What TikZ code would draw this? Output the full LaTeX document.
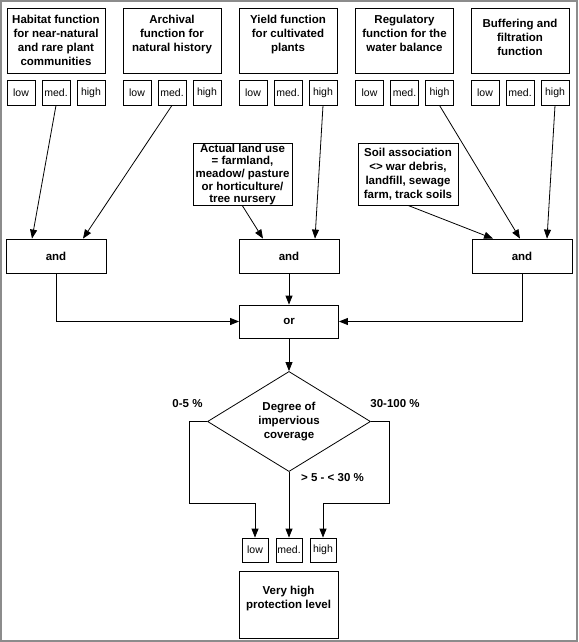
\documentclass[tikz,border=0pt]{standalone}
\usepackage{fontspec}
\setmainfont{Liberation Sans}
\usetikzlibrary{shapes.geometric}
\usetikzlibrary{arrows.meta}
\newcommand{\levels}[3] % name, x centre, y centre (in px)
{
	% three rating boxes under a function box
	\node[lvlbox] (#1low) at (#2-35,#3) {low};
	\node[lvlbox] (#1med) at (#2,#3) {med.};
	\node[lvlbox] (#1high) at (#2+35,#3) {high};
}

\begin{document}
\begin{tikzpicture}[x=1pt, y=-1pt, line width=0.8pt,
	fnbox/.style={draw, align=center, font=\fontsize{11.5}{14}\selectfont\bfseries, minimum width=98pt, minimum height=65pt, inner sep=0pt},
	lvlbox/.style={draw, font=\fontsize{10.5}{12}\selectfont, minimum width=28pt, minimum height=25pt, inner sep=0pt},
	opbox/.style={draw, font=\fontsize{11.5}{14}\selectfont\bfseries, minimum width=100pt, minimum height=34pt, inner sep=0pt},
	lbl/.style={font=\fontsize{11.5}{14}\selectfont\bfseries},
	arr/.style={-{Triangle[length=9pt,width=7pt]}}]
	% page: 578px x 642px, 1px = 1pt, y pointing down
	\useasboundingbox (0,0) rectangle (578,642);
	\draw[black!45, line width=2pt] (1,1) rectangle (577,641);
	
	% soil functions
	\node[fnbox] (habitat) at (56,40.5) {Habitat function\\for near-natural\\and rare plant\\communities};
	\node[fnbox] (archive) at (172,40.5) {Archival\\function for\\natural history\\ \mbox{}};
	\node[fnbox] (yield) at (288,40.5) {Yield function\\for cultivated\\plants\\ \mbox{}};
	\node[fnbox] (water) at (404.5,40.5) {Regulatory\\function for the\\water balance\\ \mbox{}};
	\node[fnbox] (buffer) at (520,40.5) {Buffering and\\filtration\\function\\[-7pt] \mbox{}};
	
	\levels{habitat}{56}{92.5};
	\levels{archive}{172}{92.5};
	\levels{yield}{288}{92.5};
	\levels{water}{404.5}{92.5};
	\levels{buffer}{520}{92.5};
	
	% extra conditions
	\node[fnbox, minimum width=99pt, minimum height=62pt, font=\fontsize{11.5}{12.6}\selectfont\bfseries] (land) at (242.5,174.5) {Actual land use\\= farmland,\\meadow/ pasture\\or horticulture/\\tree nursery};
	\node[fnbox, minimum width=100pt, minimum height=62pt] (soil) at (408,174) {Soil association\\<> war debris,\\landfill, sewage\\farm, track soils};
	
	% logic
	\node[opbox] (and1) at (56,256) {and};
	\node[opbox] (and2) at (289,256) {and};
	\node[opbox] (and3) at (522,256) {and};
	\node[opbox, minimum width=99pt, minimum height=33pt] (orbox) at (289,321.5) {or};
	
	\draw[arr] (habitatmed.south) -- ([xshift=-24pt]and1.north);
	\draw[arr] (archivemed.south) -- ([xshift=27pt]and1.north);
	\draw[arr] (yieldhigh.south) -- ([xshift=26pt]and2.north);
	\draw[arr] (land.south) -- ([xshift=-26pt]and2.north);
	\draw[arr] (soil.south) -- ([xshift=-29pt]and3.north);
	\draw[arr] (waterhigh.south) -- ([xshift=-2pt]and3.north);
	\draw[arr] (bufferhigh.south) -- ([xshift=25pt]and3.north);
	
	\draw[arr] (and1.south) |- (orbox.west);
	\draw[arr] (and3.south) |- (orbox.east);
	\draw[arr] (and2.south) -- (orbox.north);
	
	% impervious coverage
	\node[draw, diamond, minimum width=163pt, minimum height=97pt, inner sep=0pt, align=center, lbl] (deg) at (289,421.5) {Degree of\\impervious\\coverage};
	\draw[arr] (orbox.south) -- (deg.north);
	
	\node[lvlbox, minimum width=26pt, minimum height=24pt] (plow) at (255,550) {low};
	\node[lvlbox, minimum width=26pt, minimum height=24pt] (pmed) at (289,550) {med.};
	\node[lvlbox, minimum width=26pt, minimum height=24pt] (phigh) at (323,550) {high};
	
	\draw[arr] (deg.west) -| ++(-18,82) -| (plow.north);
	\draw[arr] (deg.south) -- (pmed.north);
	\draw[arr] (deg.east) -| ++(18,82) -| (phigh.north);
	
	\node[lbl] (lo) at (187.5,404) {0-5 \%};
	\node[lbl] (hi) at (395,404) {30-100 \%};
	\node[lbl] (mid) at (332.5,478) {> 5 - < 30 \%};
	
	\node[fnbox, minimum width=99pt, minimum height=67pt] (prot) at (288.5,604.5) {Very high\\protection level\\ \mbox{}};
	
\end{tikzpicture}
\end{document}
